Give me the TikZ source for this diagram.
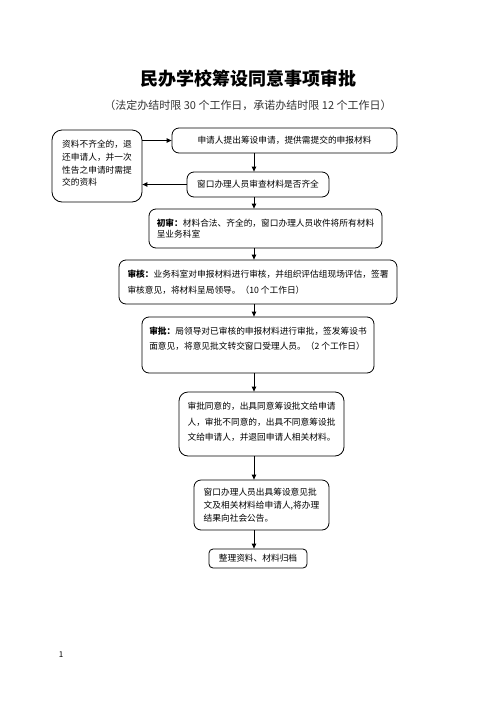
\documentclass[tikz,border=0pt]{standalone}
\usepackage{fontspec}
\setmainfont{Noto Sans CJK SC}
\usetikzlibrary{arrows.meta,calc}
\begin{document}
\begin{tikzpicture}[x=1pt,y=-1pt,
  box/.style={draw, rounded corners=7pt, line width=0.8pt, inner sep=0pt, align=left,
    font=\fontsize{8.7pt}{13pt}\selectfont},
  arr/.style={line width=0.9pt, -{Triangle[length=5pt,width=4.5pt]}}]
\useasboundingbox (0,0) rectangle (496,702);
\node (title) at (248,79) {\fontsize{18pt}{20pt}\selectfont\bfseries 民办学校筹设同意事项审批};
\node[text=black!80] (sub) at (248,105) {\fontsize{11pt}{13pt}\selectfont （法定办结时限 30 个工作日，承诺办结时限 12 个工作日）};
\coordinate (ax) at (254,0);
\node[box, minimum width=225pt, minimum height=25pt] (b1) at (284.5,140.5) {申请人提出筹设申请，提供需提交的申报材料};
\node[box, minimum width=142pt, minimum height=25pt] (b2) at (258,184.5) {窗口办理人员审查材料是否齐全};
\node[box, rounded corners=10pt, minimum width=90pt, minimum height=72pt,
  font=\fontsize{8.7pt}{12.7pt}\selectfont] (left) at (97,166)
  {资料不齐全的，退\\还申请人，并一次\\性告之申请时需提\\交的资料\rule[-6pt]{0pt}{6pt}};
\node[box, minimum width=233pt, minimum height=39pt,
  font=\fontsize{8.7pt}{11.7pt}\selectfont] (b3) at (265.5,228.5)
  {\textbf{初审：}材料合法、齐全的，窗口办理人员收件将所有材料\\呈业务科室};
\node[box, minimum width=278pt, minimum height=44pt,
  font=\fontsize{8.7pt}{16pt}\selectfont] (b4) at (258,282)
  {\textbf{审核：}业务科室对申报材料进行审核，并组织评估组现场评估，签署\\审核意见，将材料呈局领导。（10 个工作日）};
\node[box, minimum width=232pt, minimum height=56pt,
  font=\fontsize{8.7pt}{15pt}\selectfont] (b5) at (258,345)
  {\textbf{审批：}局领导对已审核的申报材料进行审批，签发筹设书\\面意见，将意见批文转交窗口受理人员。（2 个工作日）\rule[-13pt]{0pt}{13pt}};
\node[box, rounded corners=9pt, minimum width=165pt, minimum height=64pt,
  font=\fontsize{8.7pt}{15.5pt}\selectfont] (b6) at (261.5,424)
  {审批同意的，出具同意筹设批文给申请\\人，审批不同意的，出具不同意筹设批\\文给申请人，并退回申请人相关材料。\rule[-5pt]{0pt}{5pt}};
\node[box, minimum width=135pt, minimum height=50pt,
  font=\fontsize{8.7pt}{13.3pt}\selectfont] (b7) at (261.5,505)
  {窗口办理人员出具筹设意见批\\文及相关材料给申请人,将办理\\结果向社会公告。};
\node[box, rounded corners=4pt, minimum width=98pt, minimum height=19pt] (b8) at (258,558.5) {整理资料、材料归档};
\node[font=\fontsize{8pt}{10pt}\selectfont] (pg) at (61,655) {1};
\draw[arr] (b1.south -| ax) -- (b2.north -| ax);
\draw[arr] (b2.south -| ax) -- (b3.north -| ax);
\draw[arr] (b3.south -| ax) -- (b4.north -| ax);
\draw[arr] (b4.south -| ax) -- (b5.north -| ax);
\draw[arr] (b5.south -| ax) -- (b6.north -| ax);
\draw[arr] (b6.south -| ax) -- (b7.north -| ax);
\draw[arr] (b7.south -| ax) -- (b8.north -| ax);
\draw[arr] (b2.west) -- (left.east |- b2.west);
\draw[arr] (left.east |- b1.west) -- (b1.west);
\end{tikzpicture}
\end{document}
